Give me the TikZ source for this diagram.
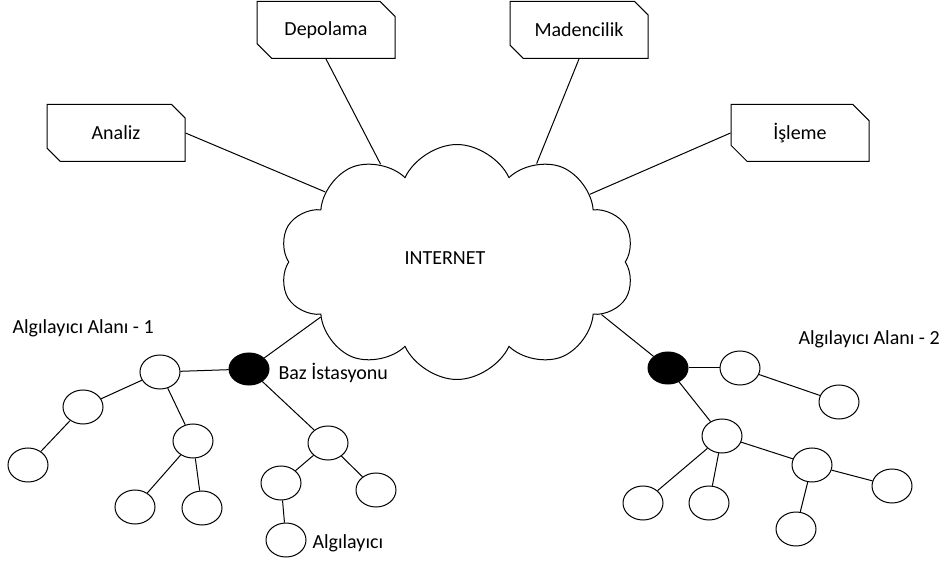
\documentclass[tikz,border=0pt]{standalone}
\usepackage{fontspec}
\setmainfont{Carlito}
\usetikzlibrary{shapes.misc,shapes.symbols,shapes.geometric}

\begin{document}
\begin{tikzpicture}[x=0.5pt,y=-0.5pt,line width=0.5pt,
  every node/.style={font=\fontsize{10}{12}\selectfont},
  kutu/.style={draw,chamfered rectangle,chamfered rectangle corners={north east,south west},
    chamfered rectangle xsep=5pt,minimum width=69pt,minimum height=28.5pt,inner sep=0pt},
  sensor/.style={draw,ellipse,minimum width=20pt,minimum height=17pt,inner sep=0pt},
  baz/.style={sensor,fill=black,minimum height=16pt},
  etiket/.style={anchor=west,inner sep=0pt}]
\useasboundingbox (0,0) rectangle (947,566);
\node[kutu] (analiz) at (116,133) {Analiz};
\node[kutu] (depo) at (326,30) {Depolama};
\node[kutu] (maden) at (579,30) {Madencilik};
\node[kutu] (isleme) at (800,133) {İşleme};
\node[draw,cloud,cloud puffs=10,cloud puff arc=130,aspect=1.5,minimum width=177.5pt,minimum height=117.5pt,inner sep=0pt] (net) at (457,262) {};
\node (nettxt) at (445,258) {INTERNET};
\draw (analiz.east) -- (net.152);
\draw (depo.south) -- (net.128);
\draw (maden.south) -- (net.51);
\draw (isleme.west) -- (net.27);
\node[baz] (b1) at (249,369) {};
\node[sensor] (s1) at (160,372) {};
\node[sensor] (s2) at (83,407) {};
\node[sensor] (s3) at (28,465) {};
\node[sensor] (s4) at (193,441) {};
\node[sensor] (s5) at (135,507) {};
\node[sensor] (s6) at (202,508) {};
\node[sensor] (s7) at (328,443) {};
\node[sensor] (s8) at (281,483) {};
\node[sensor] (s9) at (376,490) {};
\node[sensor] (s10) at (286,540) {};
\draw (net.202) -- (b1);
\draw (b1) -- (s1);
\draw (s1) -- (s2);
\draw (s2) -- (s3);
\draw (s1) -- (s4);
\draw (s4) -- (s5);
\draw (s4) -- (s6);
\draw (b1) -- (s7);
\draw (s7) -- (s8);
\draw (s7) -- (s9);
\draw (s8) -- (s10);
\node[baz] (b2) at (668,368) {};
\node[sensor] (t1) at (740,368) {};
\node[sensor] (t2) at (839,402) {};
\node[sensor] (t3) at (722,436) {};
\node[sensor] (t4) at (643,503) {};
\node[sensor] (t5) at (709,503) {};
\node[sensor] (t6) at (812,465) {};
\node[sensor] (t7) at (796,529) {};
\node[sensor] (t8) at (892,486) {};
\draw (net.340) -- (b2);
\draw (b2) -- (t1);
\draw (t1) -- (t2);
\draw (b2) -- (t3);
\draw (t3) -- (t4);
\draw (t3) -- (t5);
\draw (t3) -- (t6);
\draw (t6) -- (t7);
\draw (t6) -- (t8);
\node[etiket] (alan1) at (12,328) {Algılayıcı Alanı - 1};
\node[etiket] (alan2) at (798,339) {Algılayıcı Alanı - 2};
\node[etiket] (bazlbl) at (278,373) {Baz İstasyonu};
\node[etiket] (alglbl) at (312,543) {Algılayıcı};
\end{tikzpicture}
\end{document}
